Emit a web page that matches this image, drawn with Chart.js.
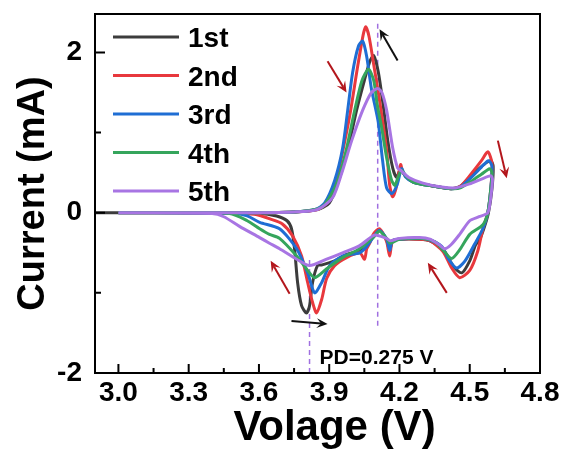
<!DOCTYPE html>
<html>
<head>
<meta charset="utf-8">
<script src="https://cdn.jsdelivr.net/npm/chart.js@4.4.1/dist/chart.umd.min.js"></script>
<style>
  html, body { margin: 0; padding: 0; background: #ffffff; }
  #wrap { width: 568px; height: 464px; }
</style>
</head>
<body>
<div id="wrap"><canvas id="c" width="568" height="464"></canvas></div>
<script>
// ---- data (Voltage in V, Current in mA) ----
const cycleLabels = ['1st', '2nd', '3rd', '4th', '5th'];
const cycleColors = ['#3c3c3c', '#e8383d', '#1f6ed4', '#35a55c', '#a875e3'];

const v1 = [2.9,3.5,3.75,3.85,3.9,3.94,3.98,4.017,4.05,4.075,4.09,4.11,4.13,4.15,4.171,4.188,4.205,4.22,4.26,4.35,4.42,4.46,4.51,4.56,4.59,4.6,
            4.595,4.58,4.56,4.54,4.525,4.5,4.466,4.43,4.39,4.33,4.286,4.2,4.17,4.158,4.145,4.115,4.09,4.06,4.03,3.974,3.923,3.87,3.85,3.829,3.816,3.803,3.782,3.765,3.752,3.739,3.72,3.675,3.6,3.0];
const i1 = [0,0,0.01,0.04,0.12,0.40,0.80,1.28,1.65,1.90,1.96,1.75,1.35,0.90,0.56,0.44,0.55,0.48,0.38,0.33,0.30,0.33,0.47,0.60,0.65,0.58,
            0.3,0.0,-0.2,-0.35,-0.4,-0.6,-0.75,-0.67,-0.47,-0.35,-0.33,-0.33,-0.35,-0.47,-0.34,-0.22,-0.28,-0.42,-0.48,-0.52,-0.6,-0.65,-0.66,-0.87,-1.16,-1.25,-1.16,-0.87,-0.45,-0.2,-0.1,-0.04,-0.01,0];

const v2 = [3.0,3.5,3.75,3.85,3.9,3.93,3.96,3.99,4.02,4.045,4.056,4.07,4.09,4.115,4.145,4.158,4.171,4.185,4.205,4.215,4.25,4.35,4.42,4.46,4.51,4.55,4.577,4.595,
            4.59,4.577,4.556,4.534,4.5,4.457,4.423,4.385,4.33,4.286,4.2,4.17,4.158,4.145,4.115,4.09,4.073,4.06,4.051,4.03,3.974,3.923,3.889,3.868,3.846,3.829,3.808,3.782,3.744,3.70,3.65,3.58,3.5,3.0];
const i2 = [0,0,0.01,0.04,0.15,0.40,0.80,1.25,1.80,2.22,2.32,2.20,1.85,1.40,0.78,0.35,0.20,0.30,0.60,0.50,0.40,0.33,0.30,0.33,0.50,0.65,0.76,0.62,
            0.3,0.0,-0.2,-0.48,-0.72,-0.81,-0.69,-0.48,-0.35,-0.33,-0.33,-0.36,-0.54,-0.36,-0.2,-0.26,-0.38,-0.45,-0.58,-0.5,-0.56,-0.66,-0.82,-1.08,-1.25,-1.12,-0.87,-0.54,-0.29,-0.14,-0.08,-0.02,-0.005,0];

const v3 = [3.0,3.5,3.75,3.84,3.88,3.923,3.957,3.979,4.0,4.025,4.043,4.06,4.08,4.103,4.11,4.128,4.145,4.167,4.19,4.209,4.225,4.26,4.35,4.42,4.46,4.51,4.55,4.58,4.595,
            4.59,4.577,4.556,4.521,4.48,4.444,4.41,4.38,4.33,4.286,4.2,4.17,4.158,4.145,4.115,4.09,4.06,4.03,3.957,3.902,3.868,3.838,3.808,3.761,3.688,3.603,3.55,3.5,3.0];
const i3 = [0,0,0.01,0.04,0.12,0.40,0.80,1.28,1.75,2.08,2.14,1.95,1.55,1.23,1.12,0.65,0.31,0.24,0.35,0.55,0.45,0.38,0.33,0.30,0.32,0.45,0.57,0.65,0.58,
            0.3,0.0,-0.2,-0.39,-0.6,-0.69,-0.58,-0.42,-0.34,-0.32,-0.33,-0.35,-0.47,-0.33,-0.22,-0.3,-0.42,-0.5,-0.54,-0.66,-0.87,-1.0,-0.75,-0.45,-0.2,-0.12,-0.04,-0.01,0];

const v4 = [3.0,3.5,3.75,3.84,3.88,3.93,3.97,4.009,4.04,4.068,4.09,4.105,4.124,4.145,4.165,4.18,4.195,4.209,4.23,4.26,4.35,4.42,4.46,4.51,4.55,4.585,4.595,
            4.59,4.577,4.556,4.5,4.46,4.423,4.39,4.35,4.286,4.2,4.16,4.145,4.115,4.09,4.03,3.957,3.889,3.838,3.808,3.761,3.688,3.645,3.603,3.55,3.474,3.0];
const i4 = [0,0,0.01,0.04,0.10,0.35,0.75,1.28,1.65,1.79,1.65,1.35,1.06,0.69,0.42,0.34,0.45,0.53,0.45,0.38,0.33,0.30,0.31,0.40,0.48,0.55,0.50,
            0.3,0.0,-0.15,-0.27,-0.45,-0.57,-0.48,-0.36,-0.32,-0.33,-0.38,-0.32,-0.23,-0.3,-0.45,-0.56,-0.7,-0.81,-0.72,-0.54,-0.32,-0.27,-0.2,-0.1,-0.01,0];

const v5 = [3.0,3.5,3.75,3.85,3.915,3.953,3.996,4.043,4.08,4.107,4.125,4.145,4.171,4.192,4.209,4.24,4.3,4.38,4.44,4.5,4.55,4.59,4.597,
            4.59,4.577,4.54,4.5,4.457,4.42,4.393,4.37,4.33,4.286,4.2,4.16,4.145,4.103,4.085,4.03,3.957,3.889,3.816,3.761,3.688,3.645,3.603,3.517,3.45,3.4,3.0];
const i5 = [0,0,0.01,0.04,0.19,0.49,0.90,1.28,1.50,1.55,1.50,1.28,0.81,0.56,0.52,0.44,0.37,0.32,0.31,0.36,0.42,0.46,0.42,
            0.2,0.0,-0.05,-0.1,-0.27,-0.4,-0.45,-0.4,-0.33,-0.31,-0.32,-0.35,-0.32,-0.28,-0.29,-0.41,-0.5,-0.58,-0.66,-0.58,-0.45,-0.38,-0.31,-0.17,-0.05,-0.01,0];

const cycleV = [v1, v2, v3, v4, v5];
const cycleI = [i1, i2, i3, i4, i5];

const xTickValues = [3.0, 3.3, 3.6, 3.9, 4.2, 4.5, 4.8];
const yTickValues = [-2, 0, 2];
const xMinorValues = [3.15, 3.45, 3.75, 4.05, 4.35, 4.65];
const yMinorValues = [-1, 1];
const xTitle = 'Volage (V)';
const yTitle = 'Current (mA)';

// reference markers (V)
const dashLines = [
  { v: 3.816, from: -2.0, to: -0.54 },
  { v: 4.107, from: -1.41, to: 2.375 }
];
const peakText = 'PD=0.275 V';
const peakTextPos = { v: 3.859, i: -1.79 };

// arrows [V start, I start, V end, I end, colour]
const arrows = [
  [3.893, 1.89, 3.974, 1.50, '#b3161c'],
  [4.192, 1.90, 4.115, 2.29, '#111111'],
  [4.620, 0.90, 4.658, 0.43, '#b3161c'],
  [3.731, -1.01, 3.650, -0.60, '#b3161c'],
  [3.739, -1.35, 3.893, -1.39, '#111111'],
  [4.402, -1.00, 4.321, -0.625, '#b3161c']
];

// ---- chart ----
const FONT = "'Liberation Sans', Arial, sans-serif";

const datasets = cycleLabels.map((lab, k) => ({
  label: lab,
  data: cycleV[k].map((x, j) => ({ x: x, y: cycleI[k][j] })),
  borderColor: cycleColors[k],
  backgroundColor: cycleColors[k],
  borderWidth: 3,
  pointRadius: 0,
  showLine: true,
  tension: 0.25,
  fill: false,
  order: 5 - k
}));

const framePlugin = {
  id: 'frame',
  beforeDatasetsDraw(chart) {
    const { ctx, scales: { x, y } } = chart;
    ctx.save();
    ctx.strokeStyle = '#a070e0';
    ctx.lineWidth = 1.5;
    ctx.setLineDash([5, 4]);
    dashLines.forEach(d => {
      const px = x.getPixelForValue(d.v);
      ctx.beginPath();
      ctx.moveTo(px, y.getPixelForValue(d.from));
      ctx.lineTo(px, y.getPixelForValue(d.to));
      ctx.stroke();
    });
    ctx.restore();
  },
  afterDraw(chart) {
    const { ctx, chartArea: a, scales: { x, y } } = chart;
    ctx.save();
    // box
    ctx.strokeStyle = '#000';
    ctx.lineWidth = 2;
    ctx.strokeRect(a.left, a.top, a.right - a.left, a.bottom - a.top);
    // inside ticks
    ctx.beginPath();
    xTickValues.forEach(v => { const p = x.getPixelForValue(v); ctx.moveTo(p, a.bottom); ctx.lineTo(p, a.bottom - 9); });
    xMinorValues.forEach(v => { const p = x.getPixelForValue(v); ctx.moveTo(p, a.bottom); ctx.lineTo(p, a.bottom - 5); });
    yTickValues.forEach(v => { const p = y.getPixelForValue(v); ctx.moveTo(a.left, p); ctx.lineTo(a.left + 10, p); });
    yMinorValues.forEach(v => { const p = y.getPixelForValue(v); ctx.moveTo(a.left, p); ctx.lineTo(a.left + 6, p); });
    ctx.stroke();

    // arrows
    arrows.forEach(ar => {
      const x0 = x.getPixelForValue(ar[0]), y0 = y.getPixelForValue(ar[1]);
      const x1 = x.getPixelForValue(ar[2]), y1 = y.getPixelForValue(ar[3]);
      const ang = Math.atan2(y1 - y0, x1 - x0);
      const hl = 11, hw = 5;
      const c = Math.cos(ang), s = Math.sin(ang);
      ctx.strokeStyle = ar[4];
      ctx.fillStyle = ar[4];
      ctx.lineWidth = 2;
      ctx.beginPath();
      ctx.moveTo(x0, y0);
      ctx.lineTo(x1 - c * hl * 0.6, y1 - s * hl * 0.6);
      ctx.stroke();
      ctx.beginPath();
      ctx.moveTo(x1, y1);
      ctx.lineTo(x1 - c * hl - s * hw, y1 - s * hl + c * hw);
      ctx.lineTo(x1 - c * hl * 0.6, y1 - s * hl * 0.6);
      ctx.lineTo(x1 - c * hl + s * hw, y1 - s * hl - c * hw);
      ctx.closePath();
      ctx.fill();
    });

    // PD text
    ctx.fillStyle = '#000';
    ctx.font = 'bold 21px ' + FONT;
    ctx.textAlign = 'left';
    ctx.textBaseline = 'alphabetic';
    ctx.fillText(peakText, x.getPixelForValue(peakTextPos.v), y.getPixelForValue(peakTextPos.i) + 8);

    // x axis title
    ctx.font = 'bold 42px ' + FONT;
    ctx.textAlign = 'center';
    ctx.fillText(xTitle, (a.left + a.right) / 2 + 17, a.bottom + 67);

    // legend
    const lx0 = a.left + 18, lx1 = a.left + 84, tx = a.left + 93;
    ctx.textAlign = 'left';
    ctx.font = 'bold 28px ' + FONT;
    chart.data.datasets.forEach((ds, k) => {
      const ly = a.top + 23 + k * 38.5;
      ctx.strokeStyle = ds.borderColor;
      ctx.lineWidth = 3;
      ctx.beginPath();
      ctx.moveTo(lx0, ly);
      ctx.lineTo(lx1, ly);
      ctx.stroke();
      ctx.fillStyle = '#000';
      ctx.fillText(ds.label, tx, ly + 10);
    });
    ctx.restore();
  }
};

new Chart(document.getElementById('c'), {
  type: 'scatter',
  data: { datasets: datasets },
  options: {
    responsive: false,
    devicePixelRatio: 1,
    animation: false,
    layout: { padding: { top: 14, right: 28, bottom: 0, left: 0 } },
    plugins: { legend: { display: false }, tooltip: { enabled: false } },
    scales: {
      x: {
        type: 'linear',
        min: 2.9,
        max: 4.8,
        afterBuildTicks(s) { s.ticks = xTickValues.map(v => ({ value: v })); },
        afterFit(s) { s.height = 91; s.paddingLeft = 0; s.paddingRight = 0; },
        grid: { display: false, drawTicks: false },
        border: { display: false },
        ticks: {
          padding: 3,
          color: '#000',
          font: { family: FONT, size: 28, weight: 'bold' },
          callback: v => Number(v).toFixed(1)
        },
        title: { display: false }
      },
      y: {
        type: 'linear',
        min: -2,
        max: 2.48,
        afterBuildTicks(s) { s.ticks = yTickValues.map(v => ({ value: v })); },
        afterFit(s) { s.width = 95; s.paddingTop = 0; s.paddingBottom = 0; },
        grid: { display: false, drawTicks: false },
        border: { display: false },
        ticks: {
          padding: 13,
          color: '#000',
          font: { family: FONT, size: 28, weight: 'bold' },
          callback: v => String(v)
        },
        title: {
          display: true,
          text: yTitle,
          color: '#000',
          font: { family: FONT, size: 38, weight: 'bold' },
          padding: { top: 11, bottom: 0 }
        }
      }
    }
  },
  plugins: [framePlugin]
});
</script>
</body>
</html>
